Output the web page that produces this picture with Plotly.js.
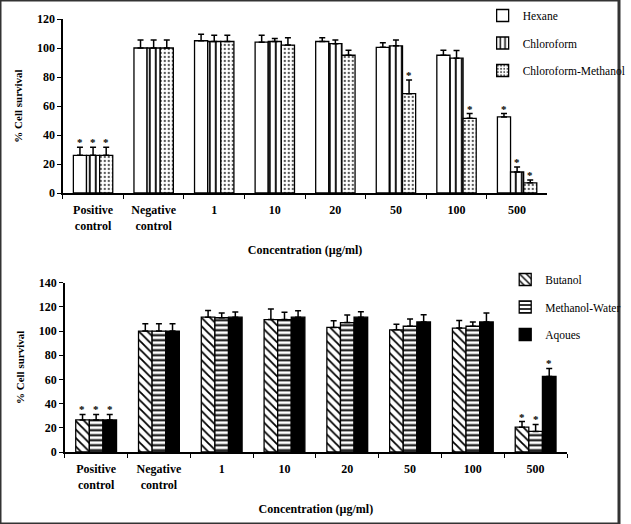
<!DOCTYPE html>
<html>
<head>
<meta charset="utf-8">
<script src="https://cdn.plot.ly/plotly-3.0.1.min.js"></script>
<style>
  body { margin: 0; background: #fff; }
  #grafico { width: 631px; height: 524px; }
</style>
</head>
<body>
<div id="grafico"></div>
<script>
// categorias do eixo x (iguais nos dois graficos)
const categorias = ["Positive<br>control", "Negative<br>control", "1", "10", "20", "50", "100", "500"];

// GRAFICO DE CIMA
const hexane = [26, 100, 105, 104, 104.5, 100.5, 95, 52.5];
const hexaneErr = [5.5, 5.5, 4.5, 4.8, 2.5, 3.2, 3.5, 2.3];
const hexaneStar = [1, 0, 0, 0, 0, 0, 0, 1];

const chloroform = [26, 100, 104.5, 104.5, 103, 101.5, 93, 14.5];
const chloroformErr = [5.5, 5.5, 4.3, 2, 2.5, 4, 5.3, 3.4];
const chloroformStar = [1, 0, 0, 0, 0, 0, 0, 1];

const chlMeth = [26, 100, 104.5, 102, 95, 68.5, 51.5, 7];
const chlMethErr = [5.5, 5.5, 4.3, 5, 3.5, 9.5, 3.3, 2];
const chlMethStar = [1, 0, 0, 0, 0, 1, 1, 1];

// GRAFICO DE BAIXO
const butanol = [26.5, 100, 111.5, 109.5, 103, 101, 102.5, 20.5];
const butanolErr = [4.6, 6, 5.5, 8.8, 5.5, 4.7, 6.3, 4.7];
const butanolStar = [1, 0, 0, 0, 0, 0, 0, 1];

const methWater = [26.5, 100, 111, 109.5, 107, 104, 104, 17];
const methWaterErr = [4.6, 6, 4, 6, 6.3, 6, 3.6, 5.8];
const methWaterStar = [1, 0, 0, 0, 0, 0, 0, 1];

const aqoues = [26.5, 100, 111.5, 111.5, 111.5, 107.5, 107.5, 62.5];
const aqouesErr = [4.6, 6, 4.2, 5.3, 4.4, 6, 7.4, 6.6];
const aqouesStar = [1, 0, 0, 0, 0, 0, 0, 1];

const W = 631, H = 524;
const fonte = "Liberation Serif, Times New Roman, serif";
const bargap = 0.35;

// posicao dos graficos em pixels
const cima = {x0: 64, x1: 558, yTop: 19, yBot: 193};
const baixo = {x0: 66, x1: 578, yTop: 282.7, yBot: 452};

function barra(nome, y, err, pattern, eixo, legenda) {
  return {
    type: "bar", name: nome, x: categorias, y: y,
    xaxis: "x" + eixo, yaxis: "y" + eixo, legend: legenda, legendgroup: nome,
    marker: {color: "white", line: {color: "black", width: 1.3}, pattern: pattern},
    error_y: {type: "data", symmetric: false, array: err, arrayminus: err.map(() => 0),
              color: "black", thickness: 1.5, width: 3}
  };
}

const dados = [
  barra("Hexane", hexane, hexaneErr, {shape: ""}, "", "legend"),
  barra("Chloroform", chloroform, chloroformErr, {shape: "|", fgcolor: "black", bgcolor: "white", size: 6, solidity: 0.3}, "", "legend"),
  barra("Chloroform-Methanol", chlMeth, chlMethErr, {shape: ".", fgcolor: "#555", bgcolor: "white", size: 4, solidity: 0.25}, "", "legend"),
  barra("Butanol", butanol, butanolErr, {shape: "\\", fgcolor: "black", bgcolor: "white", size: 6, solidity: 0.3}, "2", "legend2"),
  barra("Methanol-Water", methWater, methWaterErr, {shape: "-", fgcolor: "black", bgcolor: "white", size: 5, solidity: 0.4}, "2", "legend2"),
  barra("Aqoues", aqoues, aqouesErr, {shape: ""}, "2", "legend2")
];
dados[5].marker.color = "black";

// asteriscos em cima das barras de erro (x = indice da categoria)
const anotacoes = [];
function estrelas(series, eixo, pos) {
  const catPx = (pos.x1 - pos.x0) / categorias.length;
  const barPx = catPx * (1 - bargap) / series.length;
  series.forEach(function(s, i) {
    s.star.forEach(function(st, k) {
      if (!st) return;
      anotacoes.push({
        xref: "x" + eixo, yref: "y" + eixo, x: k, y: s.y[k] + s.err[k],
        text: "<b>*</b>", showarrow: false, yanchor: "bottom", xshift: (i - (series.length - 1) / 2) * barPx,
        yshift: -3, font: {family: fonte, size: 11, color: "black"}
      });
    });
  });
}
estrelas([{y: hexane, err: hexaneErr, star: hexaneStar},
          {y: chloroform, err: chloroformErr, star: chloroformStar},
          {y: chlMeth, err: chlMethErr, star: chlMethStar}], "", cima);
estrelas([{y: butanol, err: butanolErr, star: butanolStar},
          {y: methWater, err: methWaterErr, star: methWaterStar},
          {y: aqoues, err: aqouesErr, star: aqouesStar}], "2", baixo);

function eixoX(pos, ancora) {
  return {
    domain: [pos.x0 / W, pos.x1 / W], anchor: ancora, type: "category",
    showline: true, linecolor: "black", linewidth: 1.5,
    ticks: "outside", tickson: "boundaries", ticklen: 4, tickcolor: "black",
    ticklabelstandoff: 5,
    tickfont: {family: fonte, size: 12, color: "black", weight: "bold"},
    title: {text: "<b>Concentration (µg/ml)</b>", font: {family: fonte, size: 12, color: "black"}, standoff: 14},
    automargin: false, fixedrange: true
  };
}
function eixoY(pos, ancora, max) {
  return {
    domain: [1 - pos.yBot / H, 1 - pos.yTop / H], anchor: ancora, range: [0, max], dtick: 20,
    showline: true, linecolor: "black", linewidth: 1.5, showgrid: false, zeroline: false,
    ticks: "outside", ticklen: 4, tickcolor: "black",
    tickfont: {family: fonte, size: 12, color: "black", weight: "bold"},
    title: {text: "<b>% Cell survival</b>", font: {family: fonte, size: 11, color: "black"}, standoff: 12},
    automargin: false, fixedrange: true
  };
}

const layout = {
  width: W, height: H, margin: {l: 0, r: 0, t: 0, b: 0},
  paper_bgcolor: "white", plot_bgcolor: "white",
  barmode: "group", bargap: bargap, bargroupgap: 0,
  xaxis: eixoX(cima, "y"), yaxis: eixoY(cima, "x", 120),
  xaxis2: eixoX(baixo, "y2"), yaxis2: eixoY(baixo, "x2", 140),
  legend: {x: 492 / W, y: 1 - 1 / H, xanchor: "left", yanchor: "top", bgcolor: "rgba(0,0,0,0)",
           font: {family: fonte, size: 11.5, color: "black"}, tracegroupgap: 8.5},
  legend2: {x: 515 / W, y: 1 - 265 / H, xanchor: "left", yanchor: "top", bgcolor: "rgba(0,0,0,0)",
            font: {family: fonte, size: 11.5, color: "black"}, tracegroupgap: 8.5},
  annotations: anotacoes,
  shapes: [{type: "rect", xref: "paper", yref: "paper", x0: 0, x1: 1, y0: 0, y1: 1,
            line: {color: "#333", width: 3}}],
  showlegend: true
};

Plotly.newPlot("grafico", dados, layout, {displayModeBar: false, staticPlot: true});
</script>
</body>
</html>
